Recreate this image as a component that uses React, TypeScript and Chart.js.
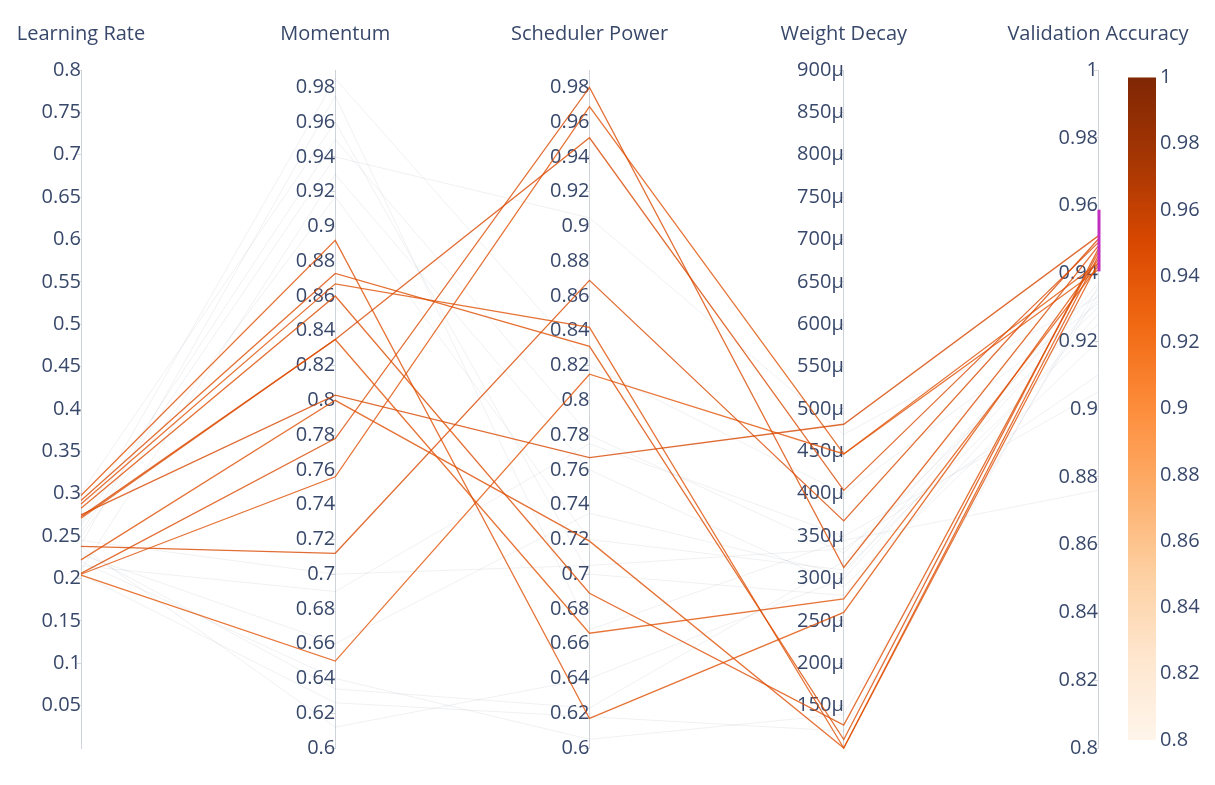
import React, { useEffect, useRef } from 'react';
import { Chart, registerables } from 'chart.js';

Chart.register(...registerables);

// ---- axes ----
const AXIS_TITLES = ['Learning Rate', 'Momentum', 'Scheduler Power', 'Weight Decay', 'Validation Accuracy'];
const AXIS_IDS = ['yLR', 'yMom', 'ySP', 'yWD', 'yVA'];
const AXIS_MIN = [0, 0.6, 0.6, 0.0001, 0.8];
const AXIS_MAX = [0.8, 0.99, 0.99, 0.0009, 1.0];
const AXIS_STEP = [0.05, 0.02, 0.02, 0.00005, 0.02];
const AXIS_HIDE_BOTTOM_TICK = [true, false, false, true, false];

// ---- trials inside the Validation Accuracy constraint (coloured) ----
const LEARNING_RATE = [0.298, 0.292, 0.288, 0.283, 0.273, 0.271, 0.275, 0.222, 0.206, 0.205, 0.238, 0.204];
const MOMENTUM = [0.892, 0.873, 0.867, 0.860, 0.835, 0.835, 0.803, 0.800, 0.778, 0.756, 0.712, 0.650];
const SCHEDULER_POWER = [0.617, 0.831, 0.842, 0.689, 0.951, 0.666, 0.767, 0.719, 0.980, 0.969, 0.869, 0.815];
const WEIGHT_DECAY = [0.000260, 0.000110, 0.000100, 0.000127, 0.000404, 0.000276, 0.000482, 0.000100, 0.000313, 0.000447, 0.000368, 0.000447];
const VALIDATION_ACCURACY = [0.944, 0.947, 0.943, 0.946, 0.949, 0.942, 0.951, 0.945, 0.948, 0.943, 0.950, 0.941];

// ---- trials outside the constraint (grey context lines) ----
const CTX_LEARNING_RATE = [0.262, 0.250, 0.240, 0.238, 0.232, 0.220, 0.210, 0.245, 0.205, 0.300, 0.215, 0.255, 0.228, 0.265];
const CTX_MOMENTUM = [0.950, 0.917, 0.975, 0.612, 0.634, 0.640, 0.930, 0.700, 0.626, 0.960, 0.690, 0.940, 0.660, 0.985];
const CTX_SCHEDULER_POWER = [0.780, 0.720, 0.668, 0.640, 0.623, 0.605, 0.760, 0.705, 0.618, 0.700, 0.775, 0.905, 0.735, 0.820];
const CTX_WEIGHT_DECAY = [0.000330, 0.000310, 0.000345, 0.000300, 0.000320, 0.000140, 0.000290, 0.000335, 0.000120, 0.000280, 0.000350, 0.000470, 0.000305, 0.000400];
const CTX_VALIDATION_ACCURACY = [0.930, 0.925, 0.876, 0.932, 0.935, 0.934, 0.920, 0.910, 0.936, 0.928, 0.905, 0.933, 0.937, 0.931];

// ---- constraint & colour scale ----
const CONSTRAINT_RANGE = [0.9406, 0.9588];
const COLOR_MIN = 0.8;
const COLOR_MAX = 1.0;
const COLORBAR_TICKS = [0.8, 0.82, 0.84, 0.86, 0.88, 0.9, 0.92, 0.94, 0.96, 0.98, 1];
const ORANGES: [number, number[]][] = [
  [0, [255, 245, 235]],
  [0.125, [254, 230, 206]],
  [0.25, [253, 208, 162]],
  [0.375, [253, 174, 107]],
  [0.5, [253, 141, 60]],
  [0.625, [241, 105, 19]],
  [0.75, [217, 72, 1]],
  [0.875, [166, 54, 3]],
  [1, [127, 39, 4]],
];

const FONT_FAMILY = '"Open Sans", "Noto Sans", sans-serif';
const TEXT_COLOR = '#38486a';

function orangeAt(v: number, alpha: number) {
  const t = Math.min(1, Math.max(0, (v - COLOR_MIN) / (COLOR_MAX - COLOR_MIN)));
  for (let i = 1; i < ORANGES.length; i++) {
    const [t1, c1] = ORANGES[i];
    const [t0, c0] = ORANGES[i - 1];
    if (t <= t1) {
      const f = (t - t0) / (t1 - t0);
      const c = c0.map((a, j) => Math.round(a + (c1[j] - a) * f));
      return `rgba(${c[0]},${c[1]},${c[2]},${alpha})`;
    }
  }
  return `rgba(127,39,4,${alpha})`;
}

function fmt(v: number) {
  return String(parseFloat(Number(v).toFixed(6)));
}

function lineData(vals: number[]) {
  return vals.map((v, k) => ({ x: k, y: (v - AXIS_MIN[k]) / (AXIS_MAX[k] - AXIS_MIN[k]) }));
}

const overlayPlugin = {
  id: 'pcOverlay',
  afterDatasetsDraw(chart: any) {
    const ctx = chart.ctx;
    const sVA = chart.scales.yVA;
    const x = chart.scales.x.getPixelForValue(4);
    ctx.save();
    ctx.strokeStyle = '#c02fc0';
    ctx.lineWidth = 3;
    ctx.beginPath();
    ctx.moveTo(x + 1, sVA.getPixelForValue(CONSTRAINT_RANGE[1]));
    ctx.lineTo(x + 1, sVA.getPixelForValue(CONSTRAINT_RANGE[0]));
    ctx.stroke();
    ctx.restore();
  },
  afterDraw(chart: any) {
    const ctx = chart.ctx;
    const s = chart.scales.yCB;
    const top = s.getPixelForValue(COLOR_MAX);
    const bottom = s.getPixelForValue(COLOR_MIN);
    const x0 = s.left + 30;
    const w = 28;
    const g = ctx.createLinearGradient(0, bottom, 0, top);
    ORANGES.forEach(([t, c]) => g.addColorStop(t, `rgb(${c[0]},${c[1]},${c[2]})`));
    ctx.save();
    ctx.fillStyle = g;
    ctx.fillRect(x0, top, w, bottom - top);
    ctx.restore();
  },
};

export default function App() {
  const ref = useRef<HTMLCanvasElement | null>(null);

  useEffect(() => {
    if (!ref.current) return;

    const datasets: any[] = [];
    LEARNING_RATE.forEach((_, i) => {
      datasets.push({
        data: lineData([LEARNING_RATE[i], MOMENTUM[i], SCHEDULER_POWER[i], WEIGHT_DECAY[i], VALIDATION_ACCURACY[i]]),
        borderColor: orangeAt(VALIDATION_ACCURACY[i], 0.8),
        borderWidth: 1.3,
        xAxisID: 'x',
        yAxisID: 'yN',
        order: 0,
        clip: false,
      });
    });
    CTX_LEARNING_RATE.forEach((_, i) => {
      datasets.push({
        data: lineData([CTX_LEARNING_RATE[i], CTX_MOMENTUM[i], CTX_SCHEDULER_POWER[i], CTX_WEIGHT_DECAY[i], CTX_VALIDATION_ACCURACY[i]]),
        borderColor: 'rgba(110,120,140,0.10)',
        borderWidth: 1,
        xAxisID: 'x',
        yAxisID: 'yN',
        order: 1,
        clip: false,
      });
    });

    const tickFont = { family: FONT_FAMILY, size: 20 };
    const scales: any = {
      x: {
        type: 'linear',
        position: 'top',
        min: 0,
        max: 4,
        ticks: {
          stepSize: 1,
          autoSkip: false,
          maxRotation: 0,
          padding: 2,
          font: tickFont,
          color: TEXT_COLOR,
          callback: (v: number) => AXIS_TITLES[v] ?? '',
        },
        grid: { display: true, drawOnChartArea: false, drawTicks: true, tickLength: 22, color: 'rgba(0,0,0,0)' },
        border: { display: false },
      },
      yN: { type: 'linear', display: false, min: 0, max: 1 },
      yCB: {
        type: 'linear',
        position: 'right',
        min: COLOR_MIN - 0.0024,
        max: COLOR_MAX + 0.00226,
        afterBuildTicks: (s: any) => {
          s.ticks = COLORBAR_TICKS.map((v) => ({ value: v }));
        },
        afterFit: (s: any) => {
          s.width = 117;
        },
        grid: { display: true, drawOnChartArea: false, drawTicks: true, tickLength: 60, color: 'rgba(0,0,0,0)' },
        border: { display: false },
        ticks: { padding: 2, font: tickFont, color: TEXT_COLOR, callback: (v: number) => fmt(v) },
      },
    };
    AXIS_IDS.forEach((id, k) => {
      scales[id] = {
        type: 'linear',
        position: { x: k },
        min: AXIS_MIN[k],
        max: AXIS_MAX[k],
        afterBuildTicks: (s: any) => {
          if (AXIS_HIDE_BOTTOM_TICK[k]) s.ticks = s.ticks.filter((t: any) => t.value > AXIS_MIN[k] + AXIS_STEP[k] / 2);
        },
        ticks: {
          stepSize: AXIS_STEP[k],
          autoSkip: false,
          includeBounds: false,
          padding: 3,
          font: tickFont,
          color: TEXT_COLOR,
          callback: (v: number) => (id === 'yWD' ? `${Math.round(v * 1e6)}\u03bc` : fmt(v)),
        },
        grid: { display: true, drawOnChartArea: false, drawTicks: true, tickLength: 4, color: '#d5d9e0' },
        border: { display: true, color: '#cfd3da', width: 1 },
      };
    });

    const chart = new Chart(ref.current, {
      type: 'line',
      data: { datasets },
      options: {
        responsive: true,
        maintainAspectRatio: false,
        animation: false,
        events: [],
        layout: { padding: { top: 20, left: 81, right: 0, bottom: 37 } },
        plugins: { legend: { display: false }, tooltip: { enabled: false } },
        elements: { point: { radius: 0 }, line: { tension: 0 } },
        scales,
      },
      plugins: [overlayPlugin],
    } as any);

    return () => chart.destroy();
  }, []);

  return (
    <div style={{ position: 'fixed', left: 0, top: 0, width: 1215, height: 785, background: '#fff' }}>
      <canvas ref={ref} />
    </div>
  );
}
